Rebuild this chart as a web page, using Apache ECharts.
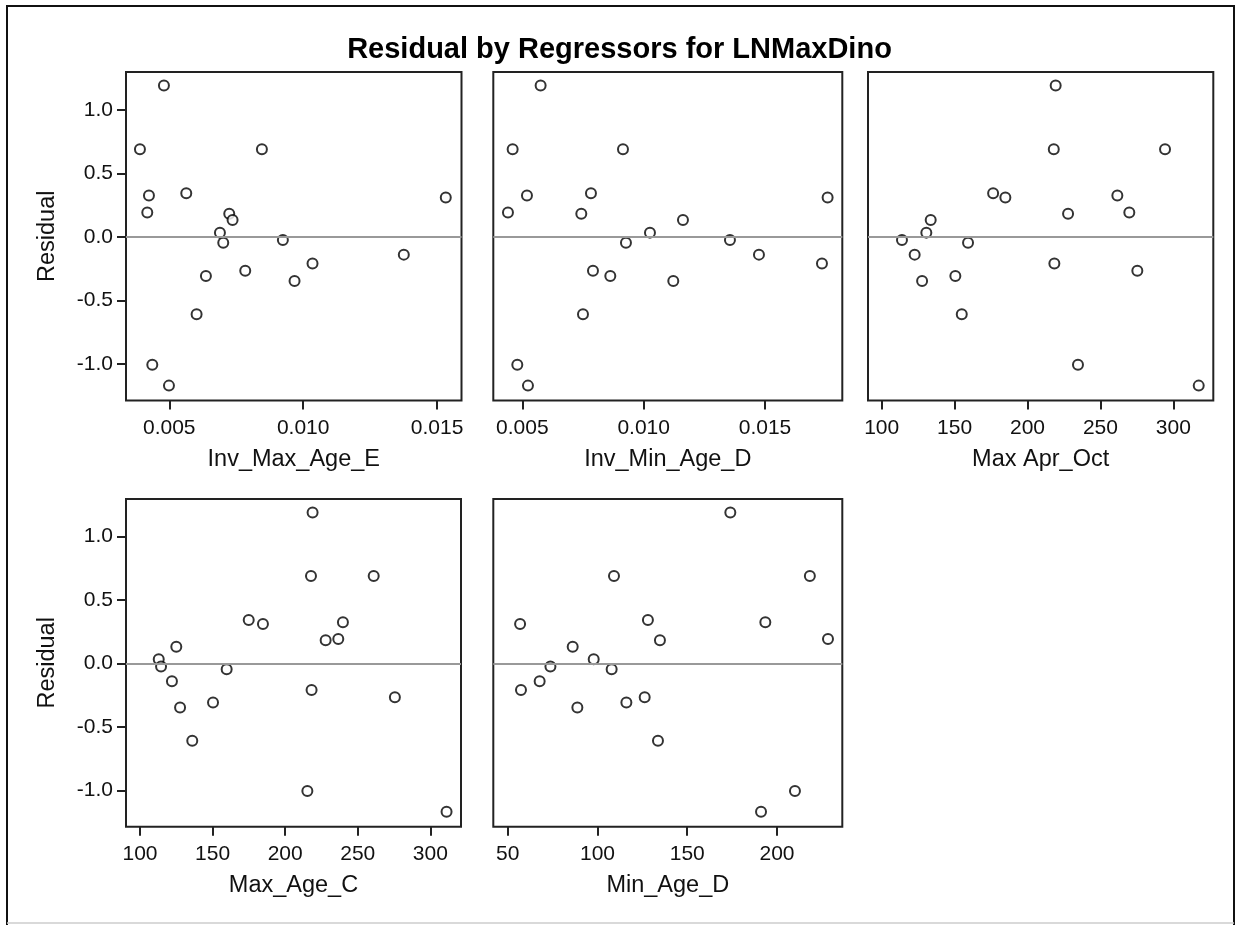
<!DOCTYPE html>
<html>
<head>
<meta charset="utf-8">
<script src="https://cdn.jsdelivr.net/npm/echarts@6/dist/echarts.min.js"></script>
<style>
html,body{margin:0;padding:0;background:#fff;}
#chart{width:1239px;height:925px;}
</style>
</head>
<body>
<div id="chart"></div>
<script>
// Residuals (one per observation, same order in all regressor arrays)
const residual = [1.19, 0.69, 0.69, 0.343, 0.325, 0.311, 0.193, 0.183, 0.133, 0.034,
  -0.024, -0.045, -0.139, -0.208, -0.265, -0.307, -0.346, -0.608, -1.004, -1.169];

const invMaxAgeE = [0.0048, 0.003905, 0.008458, 0.005634, 0.004241, 0.015323, 0.004179, 0.007239, 0.007363, 0.006891,
  0.009241, 0.007015, 0.013756, 0.010348, 0.007836, 0.006368, 0.009677, 0.00602, 0.004366, 0.004988];

const invMinAgeD = [0.005755, 0.004602, 0.009148, 0.007829, 0.005192, 0.01758, 0.004409, 0.007431, 0.01162, 0.01026,
  0.013556, 0.009271, 0.014751, 0.017347, 0.007912, 0.008626, 0.011221, 0.0075, 0.004794, 0.005233];

const maxAprOct = [219.3, 218.0, 294.3, 176.4, 261.6, 184.8, 269.8, 227.8, 133.6, 130.6,
  113.9, 159.2, 122.6, 218.4, 275.3, 150.5, 127.7, 154.9, 234.6, 317.4];

const maxAgeC = [218.9, 217.8, 261.0, 174.9, 239.8, 184.7, 236.6, 227.9, 125.0, 112.9,
  114.5, 159.7, 122.0, 218.2, 275.6, 150.3, 127.6, 136.0, 215.3, 311.2];

const minAgeD = [174.0, 109.2, 218.3, 128.1, 193.5, 56.9, 228.4, 134.8, 86.2, 97.9,
  73.8, 107.9, 67.8, 57.4, 126.3, 116.1, 88.8, 133.7, 210.0, 191.1];

const panelNames = ['Inv_Max_Age_E', 'Inv_Min_Age_D', 'Max Apr_Oct', 'Max_Age_C', 'Min_Age_D'];
const panelX = [invMaxAgeE, invMinAgeD, maxAprOct, maxAgeC, minAgeD];
const xTicks = [
  [0.005, 0.010, 0.015],
  [0.005, 0.010, 0.015],
  [100, 150, 200, 250, 300],
  [100, 150, 200, 250, 300],
  [50, 100, 150, 200]
];
const xDecimals = [3, 3, 0, 0, 0];
const xRange = [
  [0.0033843, 0.01591],
  [0.003805, 0.018185],
  [90.6, 327.4],
  [90.35, 321.15],
  [41.98, 236.37]
];
const yTicks = [-1.0, -0.5, 0.0, 0.5, 1.0];
const yRange = [-1.286, 1.297];
const titleText = 'Residual by Regressors for LNMaxDino';
const yName = 'Residual';

// layout (positions/sizes)
const grids = [
  {left: 126, top: 72, width: 335.5, height: 328.5},
  {left: 493.3, top: 72, width: 349, height: 328.5},
  {left: 868, top: 72, width: 345.3, height: 328.5},
  {left: 126, top: 499, width: 335, height: 327.7},
  {left: 493.3, top: 499, width: 349, height: 327.7}
];
const showY = [true, false, false, true, false];
const FONT = '"Liberation Sans", Arial, sans-serif';
const TXT = '#111';
const LINE = '#222';

const option = {
  animation: false,
  backgroundColor: '#fff',
  title: {
    text: titleText, left: 'center', top: 30,
    textStyle: {fontFamily: FONT, fontSize: 29, fontWeight: 'bold', color: '#000'}
  },
  grid: grids.map(g => Object.assign({show: true, borderColor: LINE, borderWidth: 2, backgroundColor: 'transparent'}, g)),
  xAxis: panelX.map((_, i) => ({
    type: 'value', gridIndex: i, min: xRange[i][0], max: xRange[i][1], position: 'bottom',
    name: panelNames[i], nameLocation: 'middle', nameGap: 47,
    nameTextStyle: {fontFamily: FONT, fontSize: 23.5, color: TXT},
    axisLine: {show: false, onZero: false},
    splitLine: {show: false},
    axisTick: {show: true, length: 9, customValues: xTicks[i], lineStyle: {color: LINE, width: 2}},
    axisLabel: {show: true, margin: 17, customValues: xTicks[i],
      formatter: v => Number(v).toFixed(xDecimals[i]),
      fontFamily: FONT, fontSize: 21, color: TXT}
  })),
  yAxis: panelX.map((_, i) => ({
    type: 'value', gridIndex: i, min: yRange[0], max: yRange[1], position: 'left',
    name: showY[i] ? yName : '', nameLocation: 'middle', nameGap: 66,
    nameTextStyle: {fontFamily: FONT, fontSize: 23.5, color: TXT},
    axisLine: {show: false, onZero: false},
    splitLine: {show: false},
    axisTick: {show: showY[i], length: 9, customValues: yTicks, lineStyle: {color: LINE, width: 2}},
    axisLabel: {show: showY[i], margin: 13, customValues: yTicks,
      formatter: v => Number(v).toFixed(1),
      fontFamily: FONT, fontSize: 21, color: TXT}
  })),
  graphic: [
    {type: 'polyline', silent: true, shape: {points: [[7, 925], [7, 6], [1234, 6], [1234, 925]]},
      style: {stroke: '#111', lineWidth: 2, fill: null}},
    {type: 'line', silent: true, shape: {x1: 7, y1: 923, x2: 1234, y2: 923},
      style: {stroke: '#ccc', lineWidth: 1.5}}
  ],
  series: []
};

panelX.forEach((xs, i) => {
  option.series.push({
    type: 'scatter', xAxisIndex: i, yAxisIndex: i, data: [], z: 1, silent: true,
    markLine: {
      silent: true, symbol: ['none', 'none'], label: {show: false},
      lineStyle: {color: '#999', width: 2, type: 'solid'},
      data: [{yAxis: 0}]
    }
  });
  option.series.push({
    type: 'scatter', xAxisIndex: i, yAxisIndex: i, z: 3,
    symbol: 'emptyCircle', symbolSize: 10,
    itemStyle: {color: '#000', borderWidth: 2.6, borderColor: '#000'},
    data: xs.map((x, k) => [x, residual[k]])
  });
});

const chart = echarts.init(document.getElementById('chart'), null, {renderer: 'canvas'});
chart.setOption(option);
</script>
</body>
</html>
